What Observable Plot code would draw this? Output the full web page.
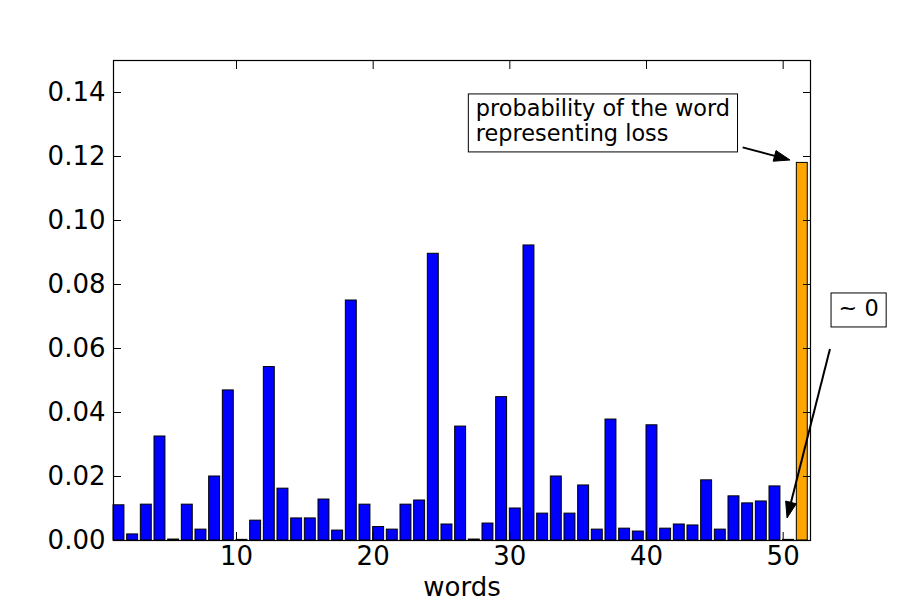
<!DOCTYPE html>
<html>
<head>
<meta charset="utf-8">
<script src="https://cdn.jsdelivr.net/npm/d3@7"></script>
<script src="https://cdn.jsdelivr.net/npm/@observablehq/plot@0.6"></script>
<style>
  body { margin: 0; background: #fff; }
  #chart svg { background: #fff; }
</style>
</head>
<body>
<div id="chart"></div>
<script>
// ---- data ----
const words = [1,2,3,4,5,6,7,8,9,10,11,12,13,14,15,16,17,18,19,20,21,22,23,24,25,26,27,28,29,30,31,32,33,34,35,36,37,38,39,40,41,42,43,44,45,46,47,48,49,50,51];
const probabilities = [
  0.0110, 0.0019, 0.0112, 0.0325, 0.0003, 0.0112, 0.0034, 0.0200, 0.0469, 0.0002,
  0.0062, 0.0542, 0.0162, 0.0069, 0.0069, 0.0128, 0.0031, 0.0750, 0.0112, 0.0042,
  0.0034, 0.0112, 0.0125, 0.0896, 0.0050, 0.0356, 0.0003, 0.0053, 0.0448, 0.0100,
  0.0922, 0.0084, 0.0200, 0.0084, 0.0172, 0.0034, 0.0378, 0.0037, 0.0028, 0.0360,
  0.0037, 0.0050, 0.0047, 0.0188, 0.0034, 0.0138, 0.0116, 0.0122, 0.0169, 0.0002,
  0.1180
];
const highlightWord = 51;
const xTicks = [10, 20, 30, 40, 50];
const yTicks = [0, 0.02, 0.04, 0.06, 0.08, 0.10, 0.12, 0.14];
const xLabel = "words";

// annotations (data coordinates)
const annotationTexts = [["probability of the word", "representing loss"], ["~ 0"]];
const annotationBoxX = [27.0, 53.54];
const annotationBoxY = [0.1394, 0.0772];
const arrowFromX = [47.07, 53.46];
const arrowFromY = [0.1227, 0.0597];
const arrowToX = [50.54, 50.32];
const arrowToY = [0.11875, 0.0069];

// ---- build table ----
const barWidth = 0.8;
const table = words.map((w, i) => ({word: w, p: probabilities[i]}));

const FONT = "DejaVu Sans";
const ANN_SIZE = 22.4;
const LINE = 25;

function annotationsMark(index, scales) {
  const {x, y} = scales;
  const g = d3.create("svg:g")
    .attr("font-family", FONT)
    .attr("font-size", ANN_SIZE)
    .attr("text-anchor", "start")
    .attr("fill", "black");
  const ctx = document.createElement("canvas").getContext("2d");
  ctx.font = `${ANN_SIZE}px '${FONT}'`;
  // arrows
  arrowFromX.forEach((_, k) => {
    const x0 = x(arrowFromX[k]), y0 = y(arrowFromY[k]);
    const x1 = x(arrowToX[k]), y1 = y(arrowToY[k]);
    const dx = x1 - x0, dy = y1 - y0, L = Math.hypot(dx, dy);
    const ux = dx / L, uy = dy / L;
    const hl = 16, hw = 5.5;
    const bx = x1 - ux * hl, by = y1 - uy * hl;
    g.append("line")
      .attr("x1", x0).attr("y1", y0).attr("x2", bx).attr("y2", by)
      .attr("stroke", "black").attr("stroke-width", 2);
    g.append("path")
      .attr("d", `M${x1},${y1}L${bx - uy * hw},${by + ux * hw}L${bx + uy * hw},${by - ux * hw}Z`)
      .attr("fill", "black").attr("stroke", "black").attr("stroke-width", 1);
  });
  // boxes
  annotationTexts.forEach((lines, k) => {
    const bx = x(annotationBoxX[k]), by = y(annotationBoxY[k]);
    const w = d3.max(lines, (l) => ctx.measureText(l).width) + 15;
    const h = lines.length * LINE + (lines.length > 1 ? 8 : 9);
    g.append("rect")
      .attr("x", bx).attr("y", by).attr("width", w).attr("height", h)
      .attr("fill", "white").attr("stroke", "black").attr("stroke-width", 1);
    lines.forEach((l, j) => {
      g.append("text")
        .attr("x", bx + 7.5)
        .attr("y", by + (lines.length > 1 ? 22 : 23.5) + LINE * j)
        .attr("text-anchor", "start")
        .text(l);
    });
  });
  return g.node();
}

const chart = Plot.plot({
  width: 900,
  height: 600,
  marginLeft: 113,
  marginRight: 90,
  marginTop: 60,
  marginBottom: 60,
  style: {fontFamily: FONT, fontSize: "26px", background: "#fff", color: "black"},
  x: {domain: [1, 52]},
  y: {domain: [0, 0.15]},
  marks: [
    Plot.rectY(table, {
      x1: "word",
      x2: (d) => d.word + barWidth,
      y1: 0,
      y2: "p",
      fill: (d) => d.word === highlightWord ? "orange" : "#0000ff",
      stroke: "black",
      strokeWidth: 1,
      inset: 0
    }),
    Plot.frame({stroke: "black", strokeWidth: 1.2}),
    // tick labels
    Plot.axisX({ticks: xTicks, tickSize: 0, tickPadding: 6, fontSize: 26, label: null, tickFormat: (d) => `${d}`}),
    Plot.axisY({ticks: yTicks, tickSize: 0, tickPadding: 8, fontSize: 26, label: null, tickFormat: d3.format(".2f")}),
    // inward ticks on all four sides
    Plot.axisX({anchor: "bottom", ticks: xTicks, tickSize: -8, tickFormat: () => "", label: null}),
    Plot.axisX({anchor: "top", ticks: xTicks, tickSize: -8, tickFormat: () => "", label: null}),
    Plot.axisY({anchor: "left", ticks: yTicks, tickSize: -8, tickFormat: () => "", label: null}),
    Plot.axisY({anchor: "right", ticks: yTicks, tickSize: -8, tickFormat: () => "", label: null}),
    Plot.text([xLabel], {frameAnchor: "bottom", text: (d) => d, dy: 55, lineAnchor: "bottom", fontSize: 26}),
    annotationsMark
  ]
});
document.getElementById("chart").appendChild(chart);
</script>
</body>
</html>
